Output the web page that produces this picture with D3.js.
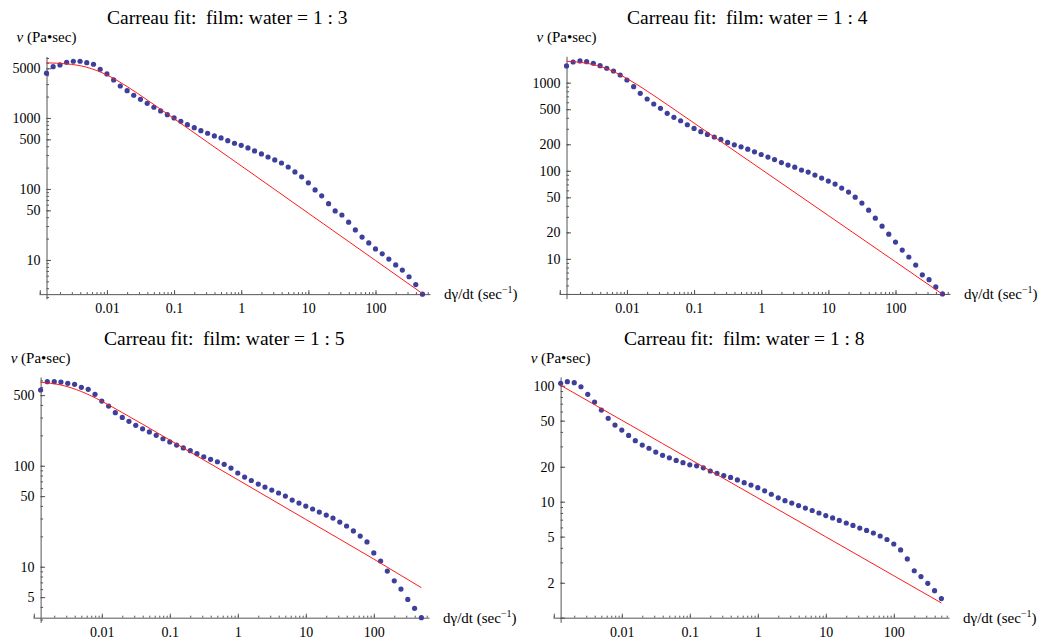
<!DOCTYPE html>
<html>
<head>
<meta charset="utf-8">
<script src="https://cdn.jsdelivr.net/npm/d3@7"></script>
<style>
  body { margin: 0; background: #fff; }
  text { font-family: "Liberation Serif", "Times New Roman", serif; fill: #000; }
  .tick text { fill: #000; }
  .title { white-space: pre; }
</style>
</head>
<body>
<svg id="chart" width="1047" height="641"></svg>
<script>
// shear rates (sec^-1), shared by all four samples
const shearRate = [
  0.00126, 0.00158, 0.00200, 0.00251, 0.00316, 0.00398, 0.00501, 0.00631, 0.00794, 0.0100,
  0.0126, 0.0158, 0.0200, 0.0251, 0.0316, 0.0398, 0.0501, 0.0631, 0.0794, 0.100,
  0.126, 0.158, 0.200, 0.251, 0.316, 0.398, 0.501, 0.631, 0.794, 1.00,
  1.26, 1.58, 2.00, 2.51, 3.16, 3.98, 5.01, 6.31, 7.94, 10.0,
  12.6, 15.8, 20.0, 25.1, 31.6, 39.8, 50.1, 63.1, 79.4, 100,
  126, 158, 200, 251, 316, 398, 501
];

// measured viscosity (Pa sec)
const visc13 = [
  4270, 5280, 5580, 6090, 6290, 6290, 6010, 5710, 4850, 4170,
  3430, 2820, 2420, 2090, 1830, 1610, 1415, 1255, 1113, 1000,
  898, 805, 730, 662, 609, 558, 523, 479, 440, 412,
  378, 343, 311, 282, 256, 232, 204, 174, 148, 122,
  97, 80, 62, 49, 43, 34, 26.5, 21, 17.4, 14.3,
  12.2, 10.3, 8.5, 7.2, 5.8, 4.5, 3.3
];
const visc14 = [
  1549, 1718, 1765, 1733, 1662, 1561, 1458, 1358, 1223, 1073,
  901, 758, 653, 573, 512, 449, 404, 370, 333, 303,
  278, 259, 242, 227, 210, 197, 187, 176, 164, 153,
  143, 134, 124, 116, 110, 102, 96.6, 89.3, 82.6, 76.4,
  70.6, 63.6, 57.3, 50.2, 43, 35.7, 29, 23.5, 19.1, 15.5,
  12.6, 10.5, 8.5, 6.6, 5.8, 4.8, 4.0
];
const visc15 = [
  562, 679, 679, 674, 655, 640, 597, 571, 509, 437,
  390, 335, 301, 275, 251, 232, 216, 200, 185, 172,
  160, 150, 141, 131.5, 122.7, 115.7, 109.5, 103.3, 94.9, 84.7,
  77.3, 71.4, 65.9, 61.5, 57.4, 53.7, 50.1, 45.7, 42.7, 39.9,
  37.3, 34.8, 32.5, 30.3, 27.7, 25.3, 22.6, 20.1, 17.6, 13.7,
  11.4, 9.06, 7.26, 6.01, 4.75, 3.87, 3.13
];
const visc18 = [
  104.9, 108.3, 106.2, 98.0, 84.3, 72.3, 61.7, 52.4, 45.8, 41.5,
  37.3, 33.6, 30.8, 28.9, 26.8, 25.1, 23.9, 22.7, 21.7, 20.8,
  20.4, 19.6, 18.4, 17.6, 16.8, 16.2, 15.4, 14.6, 13.9, 13.2,
  12.4, 11.6, 10.8, 10.2, 9.74, 9.27, 8.82, 8.40, 7.99, 7.60,
  7.24, 6.89, 6.55, 6.24, 5.93, 5.65, 5.37, 5.06, 4.72, 4.32,
  3.84, 3.21, 2.54, 2.26, 1.98, 1.71, 1.46
];

// Carreau fit curves at these rates
const fitRate = [0.00126, 0.00251, 0.00501, 0.0100, 0.0200, 0.0398, 0.100, 0.316, 1.00, 10.0, 100, 501];
const fit13 = [5970, 5781, 5176, 4033, 2769, 1793, 978, 455, 211.5, 45.6, 9.84, 3.36];
const fit14 = [1751, 1662, 1442, 1116, 803, 564, 348, 190.4, 104, 31.05, 9.27, 3.97];
const fit15 = [671, 630, 543, 435, 336, 257.6, 179.7, 114.1, 72.7, 29.4, 11.9, 6.2];
const fit18 = [100.9, 80.1, 63.5, 50.4, 40.0, 31.7, 23.3, 15.85, 10.78, 4.98, 2.30, 1.34];

const titles = [
  "Carreau fit:  film: water = 1 : 3",
  "Carreau fit:  film: water = 1 : 4",
  "Carreau fit:  film: water = 1 : 5",
  "Carreau fit:  film: water = 1 : 8"
];

// plot ranges before padding, and labelled ticks
const xRange = [0.00126, 501];
const yRanges = [[3.3, 6290], [4.0, 1765], [3.13, 679], [1.0, 108.3]];
const xTickLabels = [0.01, 0.1, 1, 10, 100];
const yTickLabels = [
  [10, 50, 100, 500, 1000, 5000],
  [10, 20, 50, 100, 200, 500, 1000],
  [5, 10, 50, 100, 500],
  [2, 5, 10, 20, 50, 100]
];

const svg = d3.select("#chart");

const panels = [
  { visc: visc13, fit: fit13, left: 39, right: 430, top: 56.6, bottom: 298.8, titleX: 107, titleY: 24 },
  { visc: visc14, fit: fit14, left: 559, right: 950, top: 56.3, bottom: 298.6, titleX: 627, titleY: 24 },
  { visc: visc15, fit: fit15, left: 33, right: 429, top: 377, bottom: 622.4, titleX: 104, titleY: 345 },
  { visc: visc18, fit: fit18, left: 553, right: 949, top: 377, bottom: 622.4, titleX: 624, titleY: 345 }
];

// Mathematica pads the plot range by 2% on each side (in log space here)
function padLog(r) {
  const a = Math.log10(r[0]), b = Math.log10(r[1]), p = (b - a) * 0.02;
  return [Math.pow(10, a - p), Math.pow(10, b + p)];
}

// all k * 10^n ticks inside a domain
function logTicks(dom) {
  const out = [];
  for (let e = Math.floor(Math.log10(dom[0])); e <= Math.ceil(Math.log10(dom[1])); e++) {
    for (let k = 1; k <= 9; k++) {
      const v = +(k * Math.pow(10, e)).toPrecision(6);
      if (v >= dom[0] && v <= dom[1]) out.push(v);
    }
  }
  return out;
}

function styleAxis(sel) {
  sel.attr("color", "#555")
    .attr("font-family", "Liberation Serif, Times New Roman, serif")
    .attr("font-size", 14);
}

panels.forEach((p, i) => {
  const g = svg.append("g");

  const x = d3.scaleLog().domain(padLog(xRange)).range([p.left, p.right]);
  const y = d3.scaleLog().domain(padLog(yRanges[i])).range([p.bottom, p.top]);
  const x0 = x(xRange[0]);
  const y0 = y(yRanges[i][0]);

  const xAll = logTicks(x.domain());
  const yAll = logTicks(y.domain());
  const xMajor = xAll.filter(v => Number.isInteger(Math.log10(v)) || xTickLabels.includes(v));
  const yMajor = yAll.filter(v => Number.isInteger(Math.log10(v)) || yTickLabels[i].includes(v));

  // X axis: minor ticks, then labelled major ticks
  g.append("g")
    .attr("transform", `translate(0,${y0})`)
    .call(d3.axisBottom(x).tickValues(xAll).tickSize(-2).tickSizeOuter(0).tickFormat(""))
    .call(styleAxis);

  g.append("g")
    .attr("transform", `translate(0,${y0})`)
    .call(d3.axisBottom(x).tickValues(xMajor).tickSize(-4).tickPadding(9)
      .tickFormat(d => xTickLabels.includes(d) ? d3.format("~g")(d) : ""))
    .call(styleAxis)
    .call(a => a.select(".domain").remove());

  // Y axis
  g.append("g")
    .attr("transform", `translate(${x0},0)`)
    .call(d3.axisLeft(y).tickValues(yAll).tickSize(-2.5).tickSizeOuter(0).tickFormat(""))
    .call(styleAxis);

  g.append("g")
    .attr("transform", `translate(${x0},0)`)
    .call(d3.axisLeft(y).tickValues(yMajor).tickSize(-4.5).tickPadding(6)
      .tickFormat(d => yTickLabels[i].includes(d) ? d3.format("~g")(d) : ""))
    .call(styleAxis)
    .call(a => a.select(".domain").remove());

  // data points
  g.selectAll(".pt")
    .data(shearRate.map((r, j) => ({ r, v: p.visc[j] })))
    .enter()
    .append("circle")
    .attr("class", "pt")
    .attr("cx", d => x(d.r))
    .attr("cy", d => y(d.v))
    .attr("r", 2.6)
    .attr("fill", "#3d3f9b");

  // fitted Carreau curve
  const line = d3.line()
    .x(d => x(d.r))
    .y(d => y(d.v))
    .curve(d3.curveMonotoneX);

  g.append("path")
    .datum(fitRate.map((r, j) => ({ r, v: p.fit[j] })))
    .attr("d", line)
    .attr("fill", "none")
    .attr("stroke", "#ff1a1a")
    .attr("stroke-width", 1);

  // title
  g.append("text")
    .attr("class", "title")
    .attr("x", p.titleX)
    .attr("y", p.titleY)
    .style("font-size", "19.5px")
    .text(titles[i]);

  // axis labels
  const yl = g.append("text")
    .attr("x", x0)
    .attr("y", p.top - 14.5)
    .attr("text-anchor", "middle")
    .style("font-size", "15px");
  yl.append("tspan").style("font-style", "italic").text("ν");
  yl.append("tspan").text(" (Pa•sec)");

  const xl = g.append("text")
    .attr("x", p.right + 14)
    .attr("y", y0)
    .attr("dy", "0.35em")
    .style("font-size", "15px");
  xl.append("tspan").text("dγ/dt (sec");
  xl.append("tspan").attr("dy", "-6").style("font-size", "10px").text("−1");
  xl.append("tspan").attr("dy", "6").text(")");
});
</script>
</body>
</html>
